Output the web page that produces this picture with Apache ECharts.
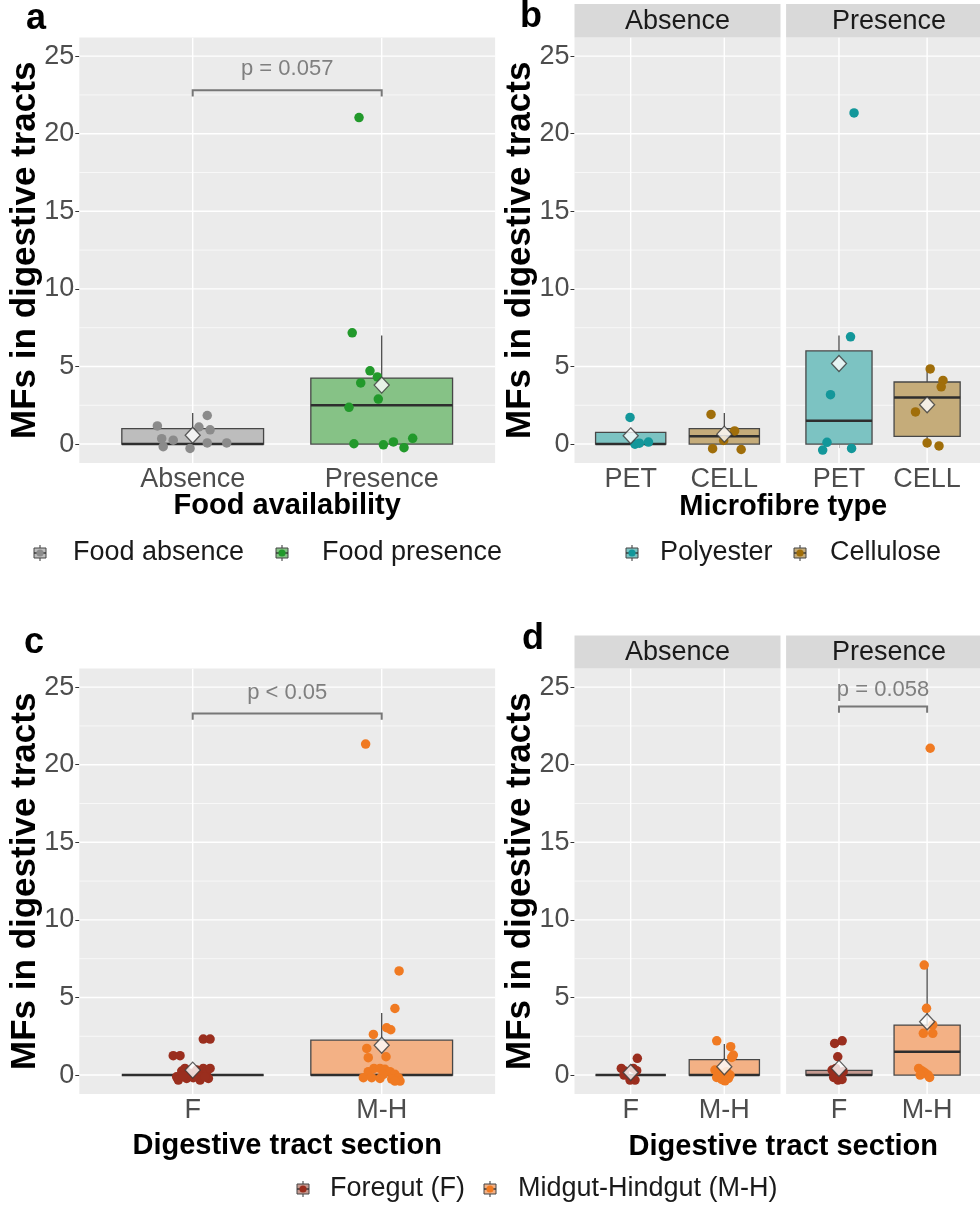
<!DOCTYPE html>
<html>
<head>
<meta charset="utf-8">
<script src="https://cdn.jsdelivr.net/npm/echarts@6.0.0/dist/echarts.min.js"></script>
<style>
  html, body { margin: 0; padding: 0; background: #ffffff; }
  #chart { width: 980px; height: 1207px; }
</style>
</head>
<body>
<div id="chart"></div>
<script>
// ---------------- data ----------------
const foodLevels = ['Absence', 'Presence'];
const fibreTypes = ['PET', 'CELL'];
const tractSections = ['F', 'M-H'];
const yTicks = [0, 5, 10, 15, 20, 25];
const yMinorTicks = [2.5, 7.5, 12.5, 17.5, 22.5];

// box summaries: [lower whisker, q1, median, q3, upper whisker]
// (a) food availability
const foodBoxes = [[0, 0, 0, 1, 2], [0, 0, 2.5, 4.25, 7]];
const foodMeans = [0.57, 3.8];
const foodAbsY   = [1.17, 0.35, -0.17, 0.25, -0.28, 1.1, 1.84, 0.92, 0.07, 0.07];
const foodAbsJit = [-0.187, -0.164, -0.156, -0.103, -0.014, 0.033, 0.077, 0.092, 0.077, 0.18];
const foodPreY   = [21.04, 7.17, 4.72, 4.33, 3.94, 2.9, 2.37, 0.02, -0.05, 0.14, -0.23, 0.37];
const foodPreJit = [-0.12, -0.156, -0.062, -0.023, -0.111, -0.018, -0.173, -0.147, 0.009, 0.062, 0.118, 0.164];

// (b) microfibre type, faceted by food
const fibreAbsBoxes = [[0, 0, 0, 0.75, 0.75], [0, 0, 0.5, 1, 2]];
const fibreAbsMeans = [0.53, 0.64];
const fibrePreBoxes = [[0, 0, 1.5, 6, 7], [0, 0.5, 3, 4, 5]];
const fibrePreMeans = [5.19, 2.53];
const petAbsY = [1.72, -0.01, 0.06, 0.13];
const petAbsJit = [-0.007, 0.046, 0.093, 0.19];
const cellAbsY = [1.91, -0.3, 0.23, 0.85, -0.35];
const cellAbsJit = [-0.142, -0.125, -0.007, 0.11, 0.18];
const petPreY = [21.34, 6.91, 3.18, 0.11, -0.39, -0.28];
const petPreJit = [0.171, 0.131, -0.096, -0.136, -0.185, 0.143];
const cellPreY = [4.84, 4.1, 3.69, 2.07, 0.07, -0.12];
const cellPreJit = [0.035, 0.18, 0.16, -0.132, 0, 0.135];

// (c) digestive tract section
const tractBoxes = [[0, 0, 0, 0, 0], [0, 0, 0, 2.25, 4]];
const tractMeans = [0.32, 1.92];
const foreY = [1.25, 1.25, 2.32, 2.32, -0.11, 0.26, 0.43, -0.22, -0.32, 0.32, 0, 0.43, 0.22, -0.22, -0.32, -0.17, 0.43, -0.11, 0.11, -0.05];
const foreJit = [-0.103, -0.067, 0.056, 0.092, -0.085, -0.058, -0.041, -0.032, -0.076, 0.021, 0.039, 0.056, 0.074, 0.083, 0.039, 0.003, 0.092, 0.065, -0.014, -0.05];
const midY = [21.33, 6.71, 4.29, 3.05, 2.92, 2.62, 1.72, 1.12, 1.18, -0.17, 0.22, 0.43, 0.43, 0.37, 0.22, 0.05, -0.17, -0.39, -0.17, -0.22, 0.05, -0.26, -0.39];
const midJit = [-0.085, 0.092, 0.07, 0.026, 0.048, -0.044, -0.079, -0.071, 0.023, -0.097, -0.071, -0.041, -0.009, 0.017, 0.044, 0.07, 0.088, 0.097, -0.053, -0.009, 0.009, 0.053, 0.07];

// (d) digestive tract section, faceted by food
const tractAbsBoxes = [[0, 0, 0, 0, 0], [0, 0, 0, 1, 2]];
const tractAbsMeans = [0.17, 0.54];
const tractPreBoxes = [[0, 0, 0, 0.3, 0.3], [0, 0, 1.5, 3.22, 7]];
const tractPreMeans = [0.43, 3.44];
const foreAbsY = [1.08, 0.43, 0.26, 0.43, 0.28, -0.32, -0.32, 0];
const foreAbsJit = [0.071, -0.1, -0.064, 0.028, 0.064, 0.046, -0.007, -0.071];
const midAbsY = [2.21, 1.83, 1.29, 1.14, 0.32, 0.11, 0.22, -0.15, -0.28, -0.22, -0.37, 0];
const midAbsJit = [-0.081, 0.068, 0.096, 0.079, -0.1, -0.053, 0.025, -0.081, -0.028, 0.043, 0.007, 0.061];
const forePreY = [2.04, 2.21, 1.18, 0.32, 0.43, 0.22, -0.15, -0.32, -0.28, 0.06, 0];
const forePreJit = [-0.049, 0.036, -0.014, -0.078, -0.036, 0.047, -0.06, -0.011, 0.035, -0.053, 0.011];
const midPreY = [21.06, 7.09, 4.3, 3.23, 2.69, 2.69, 0.43, 0.28, 0.15, 0, -0.15, 0];
const midPreJit = [0.035, -0.033, -0.007, 0.064, -0.043, 0.064, -0.096, -0.061, -0.025, 0.011, 0.028, -0.079];

// significance annotations: [grid, x1, x2, bar y, tip y, label y, label]
const brackets = [
  [0, 1, 2, 22.8, 22.4, 24.2, 'p = 0.057'],
  [3, 1, 2, 23.3, 22.9, 24.6, 'p < 0.05'],
  [5, 1, 2, 23.75, 23.35, 24.8, 'p = 0.058']
];

// ---------------- styling ----------------
const FONT = '"Liberation Sans", Arial, Helvetica, sans-serif';
const COL = {
  absFill: '#bdbdbd', absPt: '#8b8b8b',
  preFill: '#86c286', prePt: '#22992b',
  petFill: '#7cc3c2', petPt: '#13979a',
  cellFill: '#c5ac7a', cellPt: '#a06e0a',
  foreFill: '#c59a91', forePt: '#9a2e1e',
  midFill: '#f3b185', midPt: '#f07a22'
};
const Y_MIN = -1.22, Y_MAX = 26.2;
const PH = 425.5;             // panel height
const TOP1 = 37.5, TOP2 = 668.5;
const WIDE = 415.8, NARROW = 206;
const panels = [
  { left: 79.3,  top: TOP1, width: WIDE,   cats: foodLevels,    yLab: true },
  { left: 574.5, top: TOP1, width: NARROW, cats: fibreTypes,    yLab: true },
  { left: 786.1, top: TOP1, width: NARROW, cats: fibreTypes,    yLab: false },
  { left: 79.3,  top: TOP2, width: WIDE,   cats: tractSections, yLab: true },
  { left: 574.5, top: TOP2, width: NARROW, cats: tractSections, yLab: true },
  { left: 786.1, top: TOP2, width: NARROW, cats: tractSections, yLab: false }
];

const chart = echarts.init(document.getElementById('chart'), null, { renderer: 'canvas' });

const grid = panels.map(p => ({
  left: p.left, top: p.top, width: p.width, height: PH,
  show: true, backgroundColor: '#ebebeb', borderWidth: 0, containLabel: false
}));

const xAxis = panels.map((p, i) => ({
  gridIndex: i, type: 'value', min: 0.4, max: 2.6,
  axisLine: { show: false },
  splitLine: { show: false },
  axisTick: { show: true, customValues: [1, 2], length: 4, lineStyle: { color: '#333333', width: 1 } },
  axisLabel: {
    show: true, customValues: [1, 2], margin: 3,
    formatter: v => p.cats[Math.round(v) - 1],
    fontSize: 27, color: '#4d4d4d', fontFamily: FONT
  }
}));

const yAxis = panels.map((p, i) => ({
  gridIndex: i, type: 'value', min: Y_MIN, max: Y_MAX,
  axisLine: { show: false },
  splitLine: { show: false },
  axisTick: { show: p.yLab, customValues: yTicks, length: 4, lineStyle: { color: '#333333', width: 1 } },
  axisLabel: {
    show: p.yLab, customValues: yTicks, margin: 5,
    fontSize: 27, color: '#4d4d4d', fontFamily: FONT
  }
}));

// panel background grid lines (ggplot style major + minor)
function gridLineSeries(i) {
  return {
    type: 'custom', xAxisIndex: i, yAxisIndex: i, silent: true, z: 1, clip: true,
    data: [[1, 0]],
    renderItem: (params, api) => {
      const cs = params.coordSys;
      const children = [];
      yMinorTicks.forEach(v => {
        const y = api.coord([1, v])[1];
        children.push({ type: 'line', shape: { x1: cs.x, y1: y, x2: cs.x + cs.width, y2: y },
          style: { stroke: '#ffffff', lineWidth: 0.7, opacity: 0.9 } });
      });
      yTicks.forEach(v => {
        const y = api.coord([1, v])[1];
        children.push({ type: 'line', shape: { x1: cs.x, y1: y, x2: cs.x + cs.width, y2: y },
          style: { stroke: '#ffffff', lineWidth: 1.4 } });
      });
      [1, 2].forEach(v => {
        const x = api.coord([v, 0])[0];
        children.push({ type: 'line', shape: { x1: x, y1: cs.y, x2: x, y2: cs.y + cs.height },
          style: { stroke: '#ffffff', lineWidth: 1.4 } });
      });
      return { type: 'group', children };
    }
  };
}

function boxSeries(i, boxes, fills) {
  return {
    type: 'custom', xAxisIndex: i, yAxisIndex: i, z: 2, silent: true,
    data: boxes.map((b, k) => [k + 1, ...b]),
    renderItem: (params, api) => {
      const x = api.value(0), lo = api.value(1), q1 = api.value(2), med = api.value(3), q3 = api.value(4), hi = api.value(5);
      const hw = 0.375;
      const tl = api.coord([x - hw, q3]), br = api.coord([x + hw, q1]);
      const c = api.coord([x, 0])[0];
      const children = [];
      if (hi > q3) children.push({ type: 'line', shape: { x1: c, y1: api.coord([x, q3])[1], x2: c, y2: api.coord([x, hi])[1] },
        style: { stroke: '#4a4a4a', lineWidth: 1.3 } });
      if (lo < q1) children.push({ type: 'line', shape: { x1: c, y1: api.coord([x, lo])[1], x2: c, y2: api.coord([x, q1])[1] },
        style: { stroke: '#4a4a4a', lineWidth: 1.3 } });
      children.push({ type: 'rect', shape: { x: tl[0], y: tl[1], width: br[0] - tl[0], height: br[1] - tl[1] },
        style: { fill: fills[params.dataIndex], stroke: '#474747', lineWidth: 1.3 } });
      const my = api.coord([x, med])[1];
      children.push({ type: 'line', shape: { x1: tl[0], y1: my, x2: br[0], y2: my },
        style: { stroke: '#2e2e2e', lineWidth: 2.6 } });
      return { type: 'group', children };
    }
  };
}

function jitterPoints(cat, ys, jit) { return ys.map((y, k) => [cat + jit[k], y]); }

function pointSeries(i, data, color) {
  return {
    type: 'scatter', xAxisIndex: i, yAxisIndex: i, z: 3, silent: true,
    symbol: 'circle', symbolSize: 9.5, data,
    itemStyle: { color, opacity: 1 }
  };
}

function meanSeries(i, means) {
  return {
    type: 'scatter', xAxisIndex: i, yAxisIndex: i, z: 5, silent: true,
    symbol: 'diamond', symbolSize: [15, 16],
    data: means.map((m, k) => [k + 1, m]),
    itemStyle: { color: '#ffffff', borderColor: '#3a3a3a', borderWidth: 1.3 }
  };
}

function bracketSeries() {
  return brackets.map(b => ({
    type: 'custom', xAxisIndex: b[0], yAxisIndex: b[0], z: 6, silent: true, clip: false,
    data: [[b[1], b[2], b[3], b[4], b[5]]],
    renderItem: (params, api) => {
      const x1 = api.value(0), x2 = api.value(1), yb = api.value(2), yt = api.value(3), yl = api.value(4);
      const p1 = api.coord([x1, yt]), p2 = api.coord([x1, yb]), p3 = api.coord([x2, yb]), p4 = api.coord([x2, yt]);
      const lab = api.coord([(x1 + x2) / 2, yl]);
      return { type: 'group', children: [
        { type: 'polyline', shape: { points: [p1, p2, p3, p4] }, style: { stroke: '#777777', lineWidth: 2, fill: null } },
        { type: 'text', x: lab[0], y: lab[1], style: { text: b[6], fill: '#7f7f7f', fontSize: 22, fontFamily: FONT, align: 'center', verticalAlign: 'middle' } }
      ] };
    }
  }));
}

const series = [];
for (let i = 0; i < 6; i++) series.push(gridLineSeries(i));
// (a)
series.push(boxSeries(0, foodBoxes, [COL.absFill, COL.preFill]));
series.push(pointSeries(0, jitterPoints(1, foodAbsY, foodAbsJit), COL.absPt));
series.push(pointSeries(0, jitterPoints(2, foodPreY, foodPreJit), COL.prePt));
series.push(meanSeries(0, foodMeans));
// (b)
series.push(boxSeries(1, fibreAbsBoxes, [COL.petFill, COL.cellFill]));
series.push(pointSeries(1, jitterPoints(1, petAbsY, petAbsJit), COL.petPt));
series.push(pointSeries(1, jitterPoints(2, cellAbsY, cellAbsJit), COL.cellPt));
series.push(meanSeries(1, fibreAbsMeans));
series.push(boxSeries(2, fibrePreBoxes, [COL.petFill, COL.cellFill]));
series.push(pointSeries(2, jitterPoints(1, petPreY, petPreJit), COL.petPt));
series.push(pointSeries(2, jitterPoints(2, cellPreY, cellPreJit), COL.cellPt));
series.push(meanSeries(2, fibrePreMeans));
// (c)
series.push(boxSeries(3, tractBoxes, [COL.foreFill, COL.midFill]));
series.push(pointSeries(3, jitterPoints(1, foreY, foreJit), COL.forePt));
series.push(pointSeries(3, jitterPoints(2, midY, midJit), COL.midPt));
series.push(meanSeries(3, tractMeans));
// (d)
series.push(boxSeries(4, tractAbsBoxes, [COL.foreFill, COL.midFill]));
series.push(pointSeries(4, jitterPoints(1, foreAbsY, foreAbsJit), COL.forePt));
series.push(pointSeries(4, jitterPoints(2, midAbsY, midAbsJit), COL.midPt));
series.push(meanSeries(4, tractAbsMeans));
series.push(boxSeries(5, tractPreBoxes, [COL.foreFill, COL.midFill]));
series.push(pointSeries(5, jitterPoints(1, forePreY, forePreJit), COL.forePt));
series.push(pointSeries(5, jitterPoints(2, midPreY, midPreJit), COL.midPt));
series.push(meanSeries(5, tractPreMeans));
series.push(...bracketSeries());

// ---------------- decorations: strips, titles, legends ----------------
function txt(x, y, text, size, opts = {}) {
  return {
    type: 'text', x, y, rotation: opts.rotation || 0, silent: true,
    style: {
      text, fontSize: size, fontFamily: FONT, fontWeight: opts.bold ? 'bold' : 'normal',
      fill: opts.color || '#000000', align: opts.align || 'center', verticalAlign: 'middle'
    }
  };
}
function strip(p, label, top, h) {
  return [
    { type: 'rect', silent: true, shape: { x: p.left, y: top, width: p.width, height: h }, style: { fill: '#d9d9d9' } },
    txt(p.left + p.width / 2, top + h / 2 + 1, label, 27, { color: '#1a1a1a' })
  ];
}
function legendKey(cx, cy, fill, dot) {
  return {
    type: 'group', silent: true, children: [
      { type: 'line', shape: { x1: cx, y1: cy - 8, x2: cx, y2: cy + 8 }, style: { stroke: '#555555', lineWidth: 1.2 } },
      { type: 'rect', shape: { x: cx - 6, y: cy - 5, width: 12, height: 10 }, style: { fill, stroke: '#444444', lineWidth: 1 } },
      { type: 'line', shape: { x1: cx - 6, y1: cy, x2: cx + 6, y2: cy }, style: { stroke: '#333333', lineWidth: 1.4 } },
      { type: 'circle', shape: { cx, cy, r: 3.6 }, style: { fill: dot } }
    ]
  };
}
function legendItem(cx, cy, textX, fill, dot, label) {
  return [legendKey(cx, cy, fill, dot), txt(textX, cy, label, 27, { align: 'left', color: '#1a1a1a' })];
}

const Y_TITLE = 'MFs in digestive tracts';
const graphic = [
  // panel letters
  txt(36, 19, 'a', 36, { bold: true }),
  txt(531, 17, 'b', 36, { bold: true }),
  txt(34, 643, 'c', 36, { bold: true }),
  txt(533, 639, 'd', 36, { bold: true }),
  // facet strips
  ...strip(panels[1], 'Absence', 4, TOP1 - 4),
  ...strip(panels[2], 'Presence', 4, TOP1 - 4),
  ...strip(panels[4], 'Absence', 635.5, TOP2 - 635.5),
  ...strip(panels[5], 'Presence', 635.5, TOP2 - 635.5),
  // y titles
  txt(panels[0].left - 54, TOP1 + PH / 2, Y_TITLE, 35, { bold: true, rotation: Math.PI / 2 }),
  txt(panels[1].left - 54, TOP1 + PH / 2, Y_TITLE, 35, { bold: true, rotation: Math.PI / 2 }),
  txt(panels[3].left - 54, TOP2 + PH / 2, Y_TITLE, 35, { bold: true, rotation: Math.PI / 2 }),
  txt(panels[4].left - 54, TOP2 + PH / 2, Y_TITLE, 35, { bold: true, rotation: Math.PI / 2 }),
  // x titles
  txt(panels[0].left + WIDE / 2, 506, 'Food availability', 29, { bold: true }),
  txt((panels[1].left + panels[2].left + NARROW) / 2, 507, 'Microfibre type', 29, { bold: true }),
  txt(panels[3].left + WIDE / 2, 1146, 'Digestive tract section', 29, { bold: true }),
  txt((panels[4].left + panels[5].left + NARROW) / 2, 1147, 'Digestive tract section', 29, { bold: true }),
  // legends
  ...legendItem(40, 553, 73, COL.absFill, COL.absPt, 'Food absence'),
  ...legendItem(282, 553, 322, COL.preFill, COL.prePt, 'Food presence'),
  ...legendItem(632, 553, 660, COL.petFill, COL.petPt, 'Polyester'),
  ...legendItem(800, 553, 830, COL.cellFill, COL.cellPt, 'Cellulose'),
  ...legendItem(303, 1189, 330, COL.foreFill, COL.forePt, 'Foregut (F)'),
  ...legendItem(490, 1189, 518, COL.midFill, COL.midPt, 'Midgut-Hindgut (M-H)')
];

chart.setOption({
  backgroundColor: '#ffffff',
  animation: false,
  grid, xAxis, yAxis, series, graphic
});
</script>
</body>
</html>
